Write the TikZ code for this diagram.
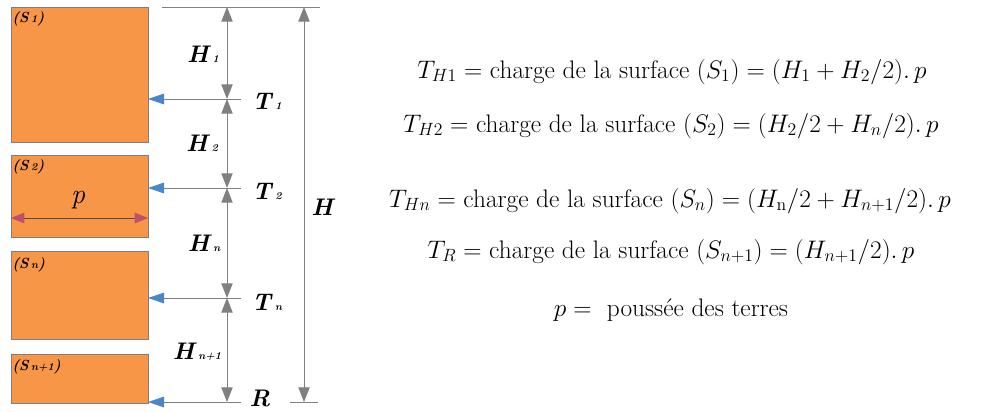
\RequirePackage{fix-cm}
\documentclass[tikz,border=0pt]{standalone}
\usepackage{tikz}
\usetikzlibrary{arrows.meta}
\definecolor{slabOrange}{HTML}{F79646}
\definecolor{slabEdge}{HTML}{7F7F7F}
\definecolor{dimGrey}{HTML}{808080}
\definecolor{loadBlue}{HTML}{4A86C8}
\definecolor{spanRose}{HTML}{C0506A}
\tikzset{
  slab/.style={draw=slabEdge, fill=slabOrange, line width=0.7pt},
  dimline/.style={draw=dimGrey, line width=0.7pt},
  dim/.style={dimline, {Triangle[length=11pt,width=8.5pt,fill=dimGrey,color=dimGrey]}-{Triangle[length=11pt,width=8.5pt,fill=dimGrey,color=dimGrey]}},
  load/.style={dimline, -{Triangle[length=12pt,width=8pt,color=loadBlue,fill=loadBlue]}},
  span/.style={draw=black!70, line width=0.7pt, {Triangle[length=10pt,width=8pt,color=spanRose,fill=spanRose]}-{Triangle[length=10pt,width=8pt,color=spanRose,fill=spanRose]}},
  dlbl/.style={font=\fontsize{18}{21}\selectfont\bfseries\itshape, inner sep=0pt},
  slbl/.style={font=\fontsize{11}{13}\selectfont\bfseries\itshape, inner sep=0pt, anchor=west},
  eqn/.style={font=\fontsize{19}{23}\selectfont, inner sep=0pt, anchor=base},
}
\newcommand{\dsub}[2]{#1\,{\fontsize{8}{9}\selectfont #2}}
\begin{document}
\begin{tikzpicture}[x=0.75pt,y=-0.75pt]
\useasboundingbox (0,0) rectangle (981,411);
% slabs
\draw[slab] (11,7) rectangle (148,142);
\draw[slab] (11,155) rectangle (148,237);
\draw[slab] (11,251) rectangle (148,339);
\draw[slab] (11,354) rectangle (148,403);
\node[slbl] (s1) at (12,19) {(\dsub{S}{1})};
\node[slbl] (s2) at (12,167) {(\dsub{S}{2})};
\node[slbl] (sn) at (12,265) {(\dsub{S}{n})};
\node[slbl] (sn1) at (12,367) {(\dsub{S}{n+1})};
% width p
\coordinate (pl) at (11,218);
\coordinate (pr) at (148,218);
\draw[span] (pl) -- (pr);
\node[dlbl,font=\fontsize{21}{24}\selectfont\itshape] (p) at (78,200) {p};
% levels
\coordinate (top) at (227,7);
\coordinate (t1) at (227,99);
\coordinate (t2) at (227,188);
\coordinate (tn) at (227,298);
\coordinate (r) at (227,402);
\draw[dimline] (162,7) -- (320,7);
\draw[dimline] (290,402) -- (318,402);
\draw[dim] (top) -- (t1);
\draw[dim] (t1) -- (t2);
\draw[dim] (t2) -- (tn);
\draw[dim] (tn) -- (r);
\foreach \lv/\y in {t1/99,t2/188,tn/298,r/402}{
  \coordinate (\lv e) at (241,\y);
  \coordinate (\lv w) at (148,\y);
  \draw[load] (\lv e) -- (\lv w);}
% total height
\coordinate (htop) at (304,7);
\coordinate (hbot) at (304,402);
\draw[dim] (htop) -- (hbot);
% labels
\node[dlbl] (h1) at (203,54) {\dsub{H}{1}};
\node[dlbl] (h2) at (202,143) {\dsub{H}{2}};
\node[dlbl] (hn) at (204,243) {\dsub{H}{n}};
\node[dlbl] (hn1) at (197,352) {\dsub{H}{n+1}};
\node[dlbl] (lt1) at (267,101) {\dsub{T}{1}};
\node[dlbl] (lt2) at (267,191) {\dsub{T}{2}};
\node[dlbl] (ltn) at (267,302) {\dsub{T}{n}};
\node[dlbl] (lr) at (260,398) {R};
\node[dlbl] (lh) at (322,207) {H};
% equations
\node[eqn] (eq1) at (672,78) {$T_{H1} =$ charge de la surface $(S_1) = (H_1 + H_2/2).\,p$};
\node[eqn] (eq2) at (671,132) {$T_{H2} =$ charge de la surface $(S_2) = (H_2/2 + H_n/2).\,p$};
\node[eqn] (eq3) at (670,207) {$T_{Hn} =$ charge de la surface $(S_n) = (H_\mathrm{n}/2 + H_{n+1}/2).\,p$};
\node[eqn] (eq4) at (671,258) {$T_{R} =$ charge de la surface $(S_{n+1}) = (H_{n+1}/2).\,p$};
\node[eqn] (eq5) at (671,316) {$p =$~ poussée des terres};
\end{tikzpicture}
\end{document}
